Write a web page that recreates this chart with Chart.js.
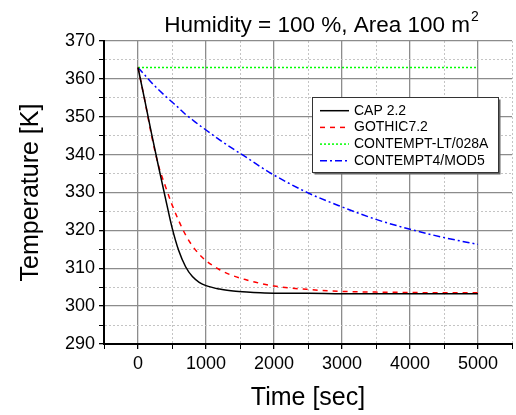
<!DOCTYPE html>
<html>
<head>
<meta charset="utf-8">
<script src="https://cdn.jsdelivr.net/npm/chart.js@4.4.0/dist/chart.umd.min.js"></script>
<style>
  html, body { margin: 0; padding: 0; background: #fff; }
  #wrap { width: 516px; height: 415px; }
</style>
</head>
<body>
<div id="wrap"><canvas id="chart" width="516" height="415"></canvas></div>
<script>
// time axis [sec]
const times = [0, 100, 200, 300, 400, 500, 600, 700, 800, 900, 1000, 1200, 1400, 1600, 1800, 2000, 2500, 3000, 3500, 4000, 4500, 5000];

// temperatures [K]
const capTemps = [363, 354.3, 345.5, 337, 328.8, 320.8, 314.6, 310.4, 307.8, 306.3, 305.4, 304.5, 304, 303.7, 303.5, 303.4, 303.4, 303.3, 303.3, 303.3, 303.3, 303.3];
const gothicTemps = [363, 354.3, 345, 337.2, 331.8, 326.8, 322.5, 318.8, 315.9, 313.7, 312, 309.6, 308, 306.9, 306, 305.3, 304.4, 303.9, 303.7, 303.6, 303.5, 303.5];
const contemptLtTemps = [363, 363, 363, 363, 363, 363, 363, 363, 363, 363, 363, 363, 363, 363, 363, 363, 363, 363, 363, 363, 363, 363];
const contempt4Temps = [363, 361, 359, 357.2, 355.5, 353.9, 352.3, 350.6, 349.2, 347.8, 346.5, 343.9, 341.5, 339.2, 336.8, 334.6, 329.9, 326.2, 322.9, 320.3, 318.1, 316.3];

const seriesNames = ["CAP 2.2", "GOTHIC7.2", "CONTEMPT-LT/028A", "CONTEMPT4/MOD5"];
const titleText = "Humidity = 100 %, Area 100 m";
const titleSup = "2";

const FONT = "'Liberation Sans', Arial, sans-serif";

function toPoints(vals) {
  return times.map((t, i) => ({ x: t, y: vals[i] }));
}

function makeSet(label, vals, color, dash) {
  return {
    label,
    data: toPoints(vals),
    borderColor: color,
    backgroundColor: color,
    borderWidth: 1.5,
    borderDash: dash,
    pointRadius: 0,
    cubicInterpolationMode: "monotone",
    fill: false,
  };
}

// titulo e legenda desenhados por cima
const overlay = {
  id: "overlay",
  afterDraw(chart) {
    const ctx = chart.ctx;
    ctx.save();
    ctx.fillStyle = "#000";
    ctx.textBaseline = "alphabetic";
    ctx.font = "22.5px " + FONT;
    const w1 = ctx.measureText(titleText).width;
    ctx.font = "14px " + FONT;
    const w2 = ctx.measureText(titleSup).width;
    const x0 = 321 - (w1 + w2) / 2;
    ctx.font = "22.5px " + FONT;
    ctx.fillText(titleText, x0, 32);
    ctx.font = "14px " + FONT;
    ctx.fillText(titleSup, x0 + w1 + 1, 21);

    // legend box
    const bx = 312.5, by = 97.5, bw = 186, bh = 75;
    ctx.fillStyle = "#666";
    ctx.fillRect(bx + 2, by + 2, bw, bh);
    ctx.fillStyle = "#fff";
    ctx.fillRect(bx, by, bw, bh);
    ctx.strokeStyle = "#333";
    ctx.lineWidth = 1;
    ctx.strokeRect(bx, by, bw, bh);

    ctx.font = "14px " + FONT;
    ctx.textBaseline = "middle";
    chart.data.datasets.forEach((ds, i) => {
      const y = 110.7 + i * 16.7;
      ctx.strokeStyle = ds.borderColor;
      ctx.lineWidth = ds.borderWidth;
      ctx.setLineDash(ds.borderDash || []);
      ctx.beginPath();
      ctx.moveTo(320, y);
      ctx.lineTo(349, y);
      ctx.stroke();
      ctx.setLineDash([]);
      ctx.fillStyle = "#000";
      ctx.fillText(ds.label, 354, y);
    });
    ctx.restore();
  },
};

const isMajorX = (c) => c.tick && c.tick.value % 1000 === 0;
const isMajorY = (c) => c.tick && c.tick.value % 10 === 0;

new Chart(document.getElementById("chart"), {
  type: "line",
  data: {
    datasets: [
      makeSet(seriesNames[0], capTemps, "#000000", []),
      makeSet(seriesNames[1], gothicTemps, "#ff0000", [5, 5]),
      makeSet(seriesNames[2], contemptLtTemps, "#00ff00", [2, 2]),
      makeSet(seriesNames[3], contempt4Temps, "#0000ff", [7, 3, 2, 3]),
    ],
  },
  options: {
    responsive: false,
    animation: false,
    layout: { padding: { top: 41, left: 0, right: 0, bottom: 0 } },
    plugins: {
      legend: { display: false },
      title: { display: false },
      tooltip: { enabled: false },
    },
    scales: {
      x: {
        type: "linear",
        min: -500,
        max: 5500,
        afterFit: (s) => { s.height = 71; },
        ticks: {
          stepSize: 500,
          autoSkip: false,
          maxRotation: 0,
          padding: 4,
          color: "#000",
          font: { family: FONT, size: 18 },
          callback: (v) => (v % 1000 === 0 ? String(v) : ""),
        },
        grid: {
          color: (c) => (isMajorX(c) ? "#8c8c8c" : "#c4c4c4"),
          lineWidth: (c) => (isMajorX(c) ? 1.3 : 1),
          tickColor: "#000",
          tickLength: 5,
        },
        border: {
          color: "#000",
          width: 2,
          dash: (c) => (isMajorX(c) ? [] : [2, 2]),
        },
        title: {
          display: true,
          text: "Time [sec]",
          color: "#000",
          font: { family: FONT, size: 25 },
          padding: { top: 0, bottom: 2 },
        },
      },
      y: {
        min: 290,
        max: 370,
        afterFit: (s) => { s.width = 104; },
        ticks: {
          stepSize: 5,
          autoSkip: false,
          padding: 4,
          color: "#000",
          font: { family: FONT, size: 18 },
          callback: (v) => (v % 10 === 0 ? String(v) : ""),
        },
        grid: {
          color: (c) => (isMajorY(c) ? "#8c8c8c" : "#c4c4c4"),
          lineWidth: (c) => (isMajorY(c) ? 1.3 : 1),
          tickColor: "#000",
          tickLength: 5,
        },
        border: {
          color: "#000",
          width: 2,
          dash: (c) => (isMajorY(c) ? [] : [2, 2]),
        },
        title: {
          display: true,
          text: "Temperature [K]",
          color: "#000",
          font: { family: FONT, size: 25 },
          padding: { top: 16, bottom: 0 },
        },
      },
    },
  },
  plugins: [overlay],
});
</script>
</body>
</html>
